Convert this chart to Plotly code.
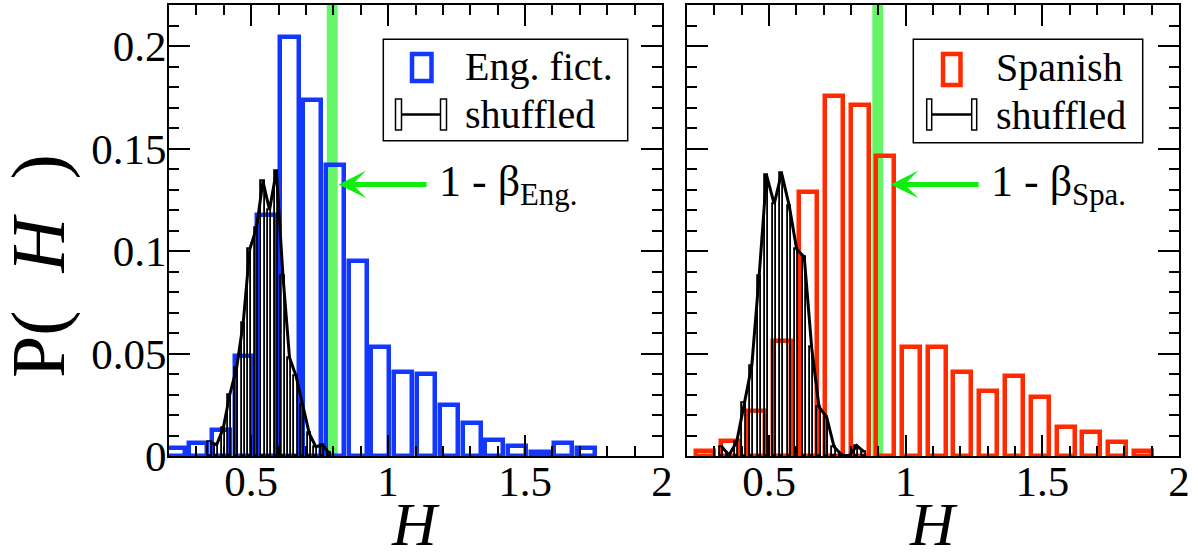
import plotly.graph_objects as go

# ---------------- data ----------------
eng_H = [0.224, 0.307, 0.390, 0.473, 0.556, 0.640, 0.723, 0.806, 0.889, 0.972,
         1.056, 1.139, 1.222, 1.305, 1.388, 1.472, 1.555, 1.638, 1.721]
eng_P = [0.004, 0.0065, 0.0125, 0.049, 0.1175, 0.2045, 0.1735, 0.142, 0.0953, 0.053,
         0.0408, 0.0398, 0.0249, 0.0161, 0.0078, 0.005, 0.002, 0.0065, 0.004]

spa_H = [0.266, 0.357, 0.452, 0.548, 0.644, 0.739, 0.833, 0.924, 1.019, 1.113,
         1.207, 1.301, 1.396, 1.490, 1.585, 1.677, 1.773, 1.867]
spa_P = [0.0025, 0.0073, 0.022, 0.0563, 0.129, 0.1755, 0.171, 0.1465, 0.0534, 0.0534,
         0.0412, 0.0315, 0.0388, 0.029, 0.0143, 0.0119, 0.007, 0.0025]

shuf_eng_H = [0.350, 0.374, 0.398, 0.422, 0.447, 0.471, 0.495, 0.519, 0.543, 0.567,
              0.592, 0.616, 0.640, 0.664, 0.688, 0.712, 0.736, 0.761, 0.785]
shuf_eng_P = [0.0068, 0.0055, 0.0135, 0.030, 0.043, 0.065, 0.101, 0.111, 0.134, 0.120,
              0.139, 0.088, 0.048, 0.039, 0.025, 0.011, 0.0045, 0.0054, 0.0013]

shuf_spa_H = [0.327, 0.354, 0.382, 0.409, 0.437, 0.464, 0.491, 0.519, 0.546, 0.574,
              0.601, 0.629, 0.656, 0.683, 0.711, 0.738, 0.766, 0.793, 0.821, 0.848]
shuf_spa_P = [0.0045, 0.0005, 0.007, 0.026, 0.044, 0.088, 0.137, 0.123, 0.138, 0.122,
              0.101, 0.097, 0.053, 0.024, 0.019, 0.0045, 0.0005, 0.0, 0.005, 0.002]

one_minus_beta_eng = 0.796
one_minus_beta_spa = 0.898

x_tickvals = [0.5, 1, 1.5, 2]
x_ticktext = ["0.5", "1", "1.5", "2"]
y_tickvals = [0, 0.05, 0.1, 0.15, 0.2]
y_ticktext = ["0", "0.05", "0.1", "0.15", "0.2"]

legend_eng = ["Eng. fict.", "shuffled"]
legend_spa = ["Spanish", "shuffled"]
beta_eng_label = "1 - β<sub>Eng.</sub>"
beta_spa_label = "1 - β<sub>Spa.</sub>"
x_title = "<i>H</i>"
y_title = "P(\u2002<i>H</i>\u2002)"

# ---------------- style ----------------
W, HGT = 1198, 554
BLUE = "#1238ff"
RED = "#ff2a00"
BAND = "rgb(102,245,102)"
ARROW = "#10ee10"
FONT = "Liberation Serif, Times New Roman, serif"


def px(x):
    return x / W


def py(y):
    return 1 - y / HGT


fig = go.Figure()


def add_panel(xa, ya, hv, pv, color, sh, sp):
    fig.add_trace(go.Bar(x=hv, y=pv, width=0.066, xaxis=xa, yaxis=ya, showlegend=False,
                         marker=dict(color="rgba(0,0,0,0)", line=dict(color=color, width=4.5))))
    fig.add_trace(go.Bar(x=sh, y=sp, width=0.012, xaxis=xa, yaxis=ya, showlegend=False,
                         marker=dict(color="rgba(0,0,0,0)", line=dict(color="black", width=1.8))))
    fig.add_trace(go.Scatter(x=sh, y=sp, mode="lines", xaxis=xa, yaxis=ya, showlegend=False,
                             line=dict(color="black", width=3)))


add_panel("x", "y", eng_H, eng_P, BLUE, shuf_eng_H, shuf_eng_P)
add_panel("x2", "y2", spa_H, spa_P, RED, shuf_spa_H, shuf_spa_P)

tickfont = dict(family=FONT, size=43, color="black")
common = dict(showline=True, linecolor="black", linewidth=2, mirror="ticks",
              ticks="inside", ticklen=21, tickwidth=2, tickcolor="black",
              showgrid=False, zeroline=False, tickfont=tickfont, automargin=False)

xa = dict(common, range=[0.2, 2.0], tickmode="array", tickvals=x_tickvals, ticktext=x_ticktext,
          ticklabelstandoff=-14,
          minor=dict(ticks="inside", ticklen=10, tickwidth=2, tickcolor="black",
                     tickmode="linear", tick0=0, dtick=0.1, showgrid=False))
ya = dict(common, range=[0, 0.22], tickmode="array", tickvals=y_tickvals, ticktext=y_ticktext,
          minor=dict(ticks="inside", ticklen=10, tickwidth=2, tickcolor="black",
                     tickmode="linear", tick0=0, dtick=0.01, showgrid=False))

ydom = [py(456), py(5)]
fig.update_layout(
    width=W, height=HGT,
    margin=dict(l=0, r=0, t=0, b=0),
    paper_bgcolor="white", plot_bgcolor="white",
    barmode="overlay", bargap=0,
    showlegend=False,
    xaxis=dict(xa, domain=[px(169), px(662)], anchor="y"),
    yaxis=dict(ya, domain=ydom, anchor="x", ticklabelstandoff=-8),
    xaxis2=dict(xa, domain=[px(687), px(1179)], anchor="y2"),
    yaxis2=dict(ya, domain=ydom, anchor="x2", showticklabels=False),
)

# green 1-beta bands
for xr, yr, b in [("x", "y domain", one_minus_beta_eng), ("x2", "y2 domain", one_minus_beta_spa)]:
    fig.add_shape(type="rect", xref=xr, yref=yr, x0=b - 0.02, x1=b + 0.02, y0=0, y1=1,
                  fillcolor=BAND, line=dict(width=0), layer="below")

# beta labels with arrows pointing to the band
for xr, yr, tip_x, lab in [("x", "y", 0.819, beta_eng_label), ("x2", "y2", 0.945, beta_spa_label)]:
    fig.add_annotation(x=tip_x, y=0.1325, xref=xr, yref=yr, text=lab,
                       showarrow=True, ax=88, ay=0, arrowhead=3, arrowsize=0.93, arrowwidth=5,
                       arrowcolor=ARROW, standoff=0, xanchor="left", yanchor="middle",
                       borderpad=11, font=dict(family=FONT, size=44, color="black"))

# axis titles
fig.add_annotation(x=px(39), y=py(266), xref="paper", yref="paper", text=y_title, textangle=-90,
                   showarrow=False, xanchor="center", yanchor="middle",
                   font=dict(family=FONT, size=76, color="black"))
for cx in [415, 933]:
    fig.add_annotation(x=px(cx), y=py(524), xref="paper", yref="paper", text=x_title,
                       showarrow=False, xanchor="center", yanchor="middle",
                       font=dict(family=FONT, size=62, color="black"))


# legends (drawn manually)
def legend(box, sym_rect, color, s_left, s_right, text_x, labels, row_y):
    fig.add_shape(type="rect", xref="paper", yref="paper", x0=px(box[0]), x1=px(box[1]),
                  y0=py(box[3]), y1=py(box[2]), line=dict(color="black", width=1.5),
                  fillcolor="white", layer="above")
    fig.add_shape(type="rect", xref="paper", yref="paper", x0=px(sym_rect[0]), x1=px(sym_rect[1]),
                  y0=py(sym_rect[3]), y1=py(sym_rect[2]), line=dict(color=color, width=4.5),
                  layer="above")
    for (a, b) in [s_left, s_right]:
        fig.add_shape(type="rect", xref="paper", yref="paper", x0=px(a), x1=px(b),
                      y0=py(130), y1=py(99), line=dict(color="black", width=1.5),
                      fillcolor="white", layer="above")
    fig.add_shape(type="line", xref="paper", yref="paper", x0=px(s_left[1]), x1=px(s_right[0]),
                  y0=py(114.5), y1=py(114.5), line=dict(color="black", width=2.5), layer="above")
    for lab, yy in zip(labels, row_y):
        fig.add_annotation(x=px(text_x), y=py(yy), xref="paper", yref="paper", text=lab,
                           showarrow=False, xanchor="left", yanchor="middle",
                           font=dict(family=FONT, size=40, color="black"))


legend((383.3, 627.7, 39.3, 140.7), (412, 431.5, 54, 81), BLUE, (395.5, 401.5), (440.5, 446.5),
       463, legend_eng, [66, 114])
legend((913.3, 1142.7, 39.3, 142.7), (943, 960.5, 54, 85), RED, (926.7, 931.7), (971.7, 976.7),
       994, legend_spa, [68, 115])

fig.write_html("out.html", config={"displayModeBar": False},
               post_script="document.body.style.margin='0px';document.body.style.overflow='hidden';")
